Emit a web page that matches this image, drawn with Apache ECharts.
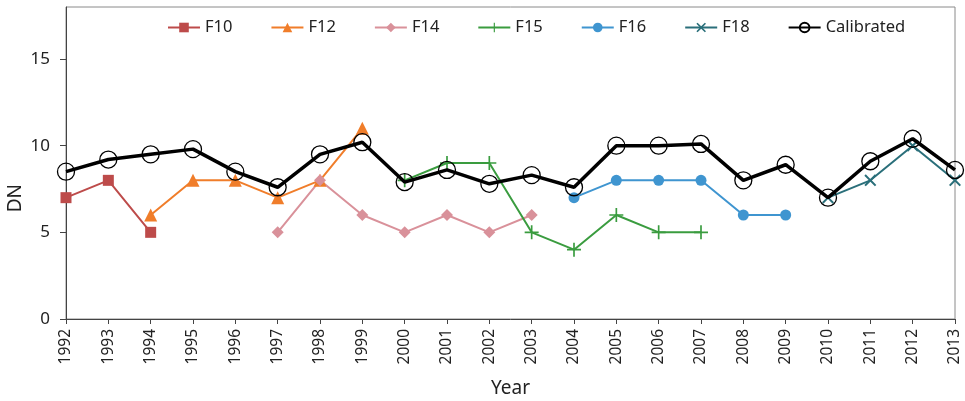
<!DOCTYPE html>
<html>
<head>
<meta charset="utf-8">
<script src="https://cdn.jsdelivr.net/npm/echarts@6/dist/echarts.min.js"></script>
<style>
  html, body { margin: 0; padding: 0; background: #fff; }
  #main { width: 965px; height: 401px; }
</style>
</head>
<body>
<div id="main"></div>
<script>
var years = ['1992','1993','1994','1995','1996','1997','1998','1999','2000','2001','2002',
             '2003','2004','2005','2006','2007','2008','2009','2010','2011','2012','2013'];

var f10 = [7, 8, 5, null, null, null, null, null, null, null, null, null, null, null, null, null, null, null, null, null, null, null];
var f12 = [null, null, 6, 8, 8, 7, 8, 11, null, null, null, null, null, null, null, null, null, null, null, null, null, null];
var f14 = [null, null, null, null, null, 5, 8, 6, 5, 6, 5, 6, null, null, null, null, null, null, null, null, null, null];
var f15 = [null, null, null, null, null, null, null, null, 8, 9, 9, 5, 4, 6, 5, 5, null, null, null, null, null, null];
var f16 = [null, null, null, null, null, null, null, null, null, null, null, null, 7, 8, 8, 8, 6, 6, null, null, null, null];
var f18 = [null, null, null, null, null, null, null, null, null, null, null, null, null, null, null, null, null, null, 7, 8, 10, 8];
var calibrated = [8.5, 9.2, 9.5, 9.8, 8.5, 7.6, 9.5, 10.2, 7.9, 8.6, 7.8,
                  8.3, 7.6, 10.0, 10.0, 10.1, 8.0, 8.9, 7.0, 9.1, 10.4, 8.6];

var yTicks = [0, 5, 10, 15];

var font = 'Noto Sans';
var plusPath = 'path://M4.4,0h1.2v4.4h4.4v1.2h-4.4v4.4h-1.2v-4.4h-4.4v-1.2h4.4z';
var crossPath = 'path://M1.2,0L5,3.8L8.8,0L10,1.2L6.2,5L10,8.8L8.8,10L5,6.2L1.2,10L0,8.8L3.8,5L0,1.2z';

function line(name, data, color, symbol, size) {
    return {
        name: name,
        type: 'line',
        data: data,
        symbol: symbol,
        symbolSize: size,
        showAllSymbol: true,
        connectNulls: false,
        lineStyle: { color: color, width: 2 },
        itemStyle: { color: color },
        emphasis: { disabled: true }
    };
}

var myChart = echarts.init(document.getElementById('main'));

var option = {
    animation: false,
    textStyle: { fontFamily: font },
    legend: {
        top: 14,
        left: 162,
        itemWidth: 32,
        itemHeight: 12,
        itemGap: 38,
        textStyle: { fontSize: 16.5, color: '#222', fontFamily: font },
        data: ['F10', 'F12', 'F14', 'F15', 'F16', 'F18', 'Calibrated']
    },
    grid: {
        left: 66, right: 10, top: 7, bottom: 82,
        outerBoundsMode: 'none',
        containLabel: false,
        show: true,
        borderColor: '#8a8a8a',
        borderWidth: 1
    },
    xAxis: {
        type: 'category',
        data: years,
        boundaryGap: false,
        name: 'Year',
        nameLocation: 'middle',
        nameGap: 60,
        nameTextStyle: { fontSize: 19, color: '#222', fontFamily: font },
        axisLine: { lineStyle: { color: '#444', width: 1 } },
        axisTick: { alignWithLabel: true, length: 5, lineStyle: { color: '#444' } },
        axisLabel: { rotate: 90, fontSize: 15.5, color: '#222', margin: 10, interval: 0 },
        splitLine: { show: false }
    },
    yAxis: {
        type: 'value',
        min: 0,
        max: 18,
        interval: 5,
        axisLine: { show: true, lineStyle: { color: '#444', width: 1 } },
        axisTick: { show: true, length: 6, lineStyle: { color: '#444' } },
        axisLabel: {
            fontSize: 17, color: '#222', margin: 16, showMaxLabel: false,
            formatter: function (v) { return yTicks.indexOf(v) >= 0 ? String(v) : ''; }
        },
        splitLine: { show: false }
    },
    graphic: [{
        type: 'text',
        left: 6,
        top: 184,
        rotation: Math.PI / 2,
        style: { text: 'DN', font: '19px "Noto Sans"', fill: '#222' }
    }],
    series: [
        line('F10', f10, '#bd4b4a', 'rect', 11),
        line('F12', f12, '#f07d2a', 'triangle', 13),
        line('F14', f14, '#d9919a', 'diamond', 12),
        line('F15', f15, '#3a9c3f', plusPath, 14),
        line('F16', f16, '#3f95d0', 'circle', 11),
        line('F18', f18, '#2a6f7a', crossPath, 12),
        {
            name: 'Calibrated',
            type: 'line',
            data: calibrated,
            symbol: 'circle',
            symbolSize: 17,
            showAllSymbol: true,
            lineStyle: { color: '#000', width: 3.5 },
            itemStyle: { color: 'rgba(255,255,255,0)', borderColor: '#000', borderWidth: 1.3 },
            emphasis: { disabled: true },
            z: 5
        }
    ]
};

myChart.setOption(option);
</script>
</body>
</html>
